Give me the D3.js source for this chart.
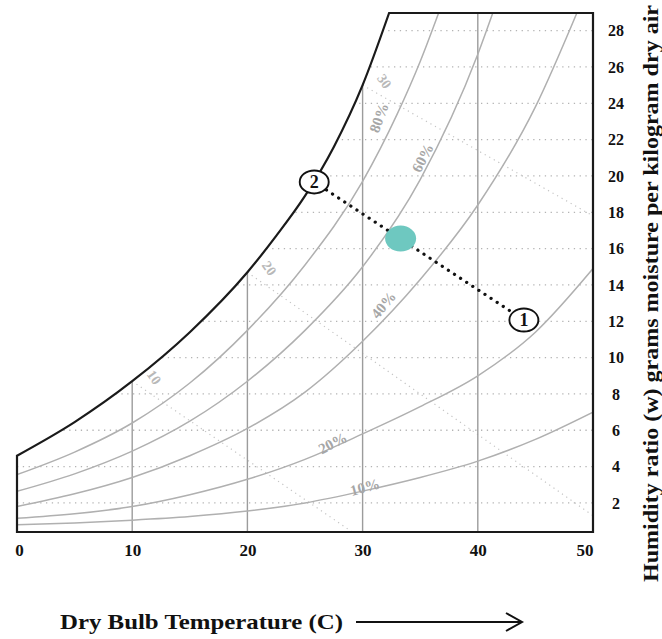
<!DOCTYPE html>
<html>
<head>
<meta charset="utf-8">
<script src="https://cdn.jsdelivr.net/npm/d3@7"></script>
<style>
  html, body { margin: 0; padding: 0; background: #fff; }
  svg { display: block; }
  text { font-family: "Liberation Serif", "DejaVu Serif", Times, serif; }
</style>
</head>
<body>
<svg id="chart" width="662" height="639"></svg>
<script>
// ---------------- data ----------------
const tempTicks = [0, 10, 20, 30, 40, 50];
const wTicks = [2, 4, 6, 8, 10, 12, 14, 16, 18, 20, 22, 24, 26, 28];
const tempDomain = [0, 50];
const wDomain = [0.4, 28.97];

// saturation (100%) curve
const satT = [0, 5, 10, 15, 20, 22.5, 25, 27.5, 30, 32.3];
const satW = [4.6, 6.45, 8.7, 11.4, 14.7, 16.7, 18.9, 21.6, 25.0, 28.97];

// relative humidity curves
const rhNames = ["80%", "60%", "40%", "20%", "10%"];
const rh80T = [0, 5, 10, 15, 20, 25, 30, 33, 35, 36.6];
const rh80W = [3.56, 4.8, 6.4, 8.6, 11.5, 15.1, 19.7, 23.4, 26.3, 28.97];
const rh60T = [0, 5, 10, 15, 20, 25, 30, 35, 40, 41.3];
const rh60W = [2.64, 3.6, 4.85, 6.5, 8.7, 11.5, 15.0, 19.8, 26.7, 28.97];
const rh40T = [0, 5, 10, 15, 20, 25, 30, 35, 40, 45, 48.6];
const rh40W = [1.8, 2.5, 3.4, 4.6, 6.1, 8.1, 10.9, 14.3, 18.4, 23.8, 28.97];
const rh20T = [0, 5, 10, 15, 20, 25, 30, 35, 40, 45, 50];
const rh20W = [1.15, 1.4, 1.8, 2.45, 3.3, 4.4, 5.8, 7.3, 9.0, 11.4, 14.9];
const rh10T = [0, 5, 10, 15, 20, 25, 30, 35, 40, 45, 50];
const rh10W = [0.8, 0.9, 1.05, 1.25, 1.55, 2.0, 2.65, 3.4, 4.3, 5.5, 7.0];
// RH label anchor (temperature, humidity ratio) and angle
const rhLabelT = [31.4, 35.2, 31.8, 27.4, 30.2];
const rhLabelW = [23.2, 21.0, 12.9, 5.3, 2.88];
const rhLabelAngle = [-70, -63, -50, -27, -15];

// wet bulb lines
const wbNames = ["10", "20", "30"];
const wbStartT = [10, 20, 30];
const wbStartW = [8.7, 14.7, 25.0];
const wbEndT = [29.1, 50, 50];
const wbEndW = [0.4, 1.3, 17.8];

// states
const stateNames = ["1", "2"];
const stateT = [44.0, 25.8];
const stateW = [12.07, 19.67];
const mixT = 33.3;
const mixW = 16.55;

// ---------------- drawing ----------------
const svg = d3.select("#chart");
const x = d3.scaleLinear().domain(tempDomain).range([17, 593]);
const y = d3.scaleLinear().domain(wDomain).range([532, 13]);

const zip = (ts, ws) => ts.map((t, i) => [t, ws[i]]);
const line = d3.line().x(d => x(d[0])).y(d => y(d[1])).curve(d3.curveMonotoneX);

const satPts = zip(satT, satW);
const satPath = line(satPts);
const regionPath = satPath +
  "L" + x(tempDomain[1]) + "," + y(wDomain[1]) +
  "L" + x(tempDomain[1]) + "," + y(wDomain[0]) +
  "L" + x(tempDomain[0]) + "," + y(wDomain[0]) + "Z";

const defs = svg.append("defs");
defs.append("clipPath").attr("id", "region").append("path").attr("d", regionPath);

const inner = svg.append("g").attr("clip-path", "url(#region)");

// horizontal dotted grid
inner.selectAll("line.hgrid").data(wTicks).join("line")
  .attr("class", "hgrid")
  .attr("x1", x(tempDomain[0])).attr("x2", x(tempDomain[1]))
  .attr("y1", d => y(d)).attr("y2", d => y(d))
  .attr("stroke", "#b4b4b4").attr("stroke-width", 1.3)
  .attr("stroke-dasharray", "1.3,4.5");

// wet bulb dotted lines
inner.selectAll("line.wb").data(wbNames).join("line")
  .attr("class", "wb")
  .attr("x1", (d, i) => x(wbStartT[i])).attr("y1", (d, i) => y(wbStartW[i]))
  .attr("x2", (d, i) => x(wbEndT[i])).attr("y2", (d, i) => y(wbEndW[i]))
  .attr("stroke", "#c4c4c4").attr("stroke-width", 1.2)
  .attr("stroke-dasharray", "1.2,4");

// vertical grid lines
inner.selectAll("line.vgrid").data(tempTicks.slice(1, -1)).join("line")
  .attr("class", "vgrid")
  .attr("x1", d => x(d)).attr("x2", d => x(d))
  .attr("y1", y(wDomain[0])).attr("y2", y(wDomain[1]))
  .attr("stroke", "#9c9c9c").attr("stroke-width", 1.4);

// RH curves
const rhData = [zip(rh80T, rh80W), zip(rh60T, rh60W), zip(rh40T, rh40W), zip(rh20T, rh20W), zip(rh10T, rh10W)];
inner.selectAll("path.rh").data(rhData).join("path")
  .attr("class", "rh")
  .attr("d", line)
  .attr("fill", "none").attr("stroke", "#b0b0b0").attr("stroke-width", 1.5);

// RH labels
svg.selectAll("text.rhlab").data(rhNames).join("text")
  .attr("class", "rhlab")
  .attr("transform", (d, i) => `translate(${x(rhLabelT[i])},${y(rhLabelW[i])}) rotate(${rhLabelAngle[i]})`)
  .attr("text-anchor", "middle").attr("dy", "0.35em")
  .attr("font-size", 15).attr("font-weight", "bold").attr("fill", "#a6a6a6")
  .text(d => d);

// wet bulb labels
svg.selectAll("text.wblab").data(wbNames).join("text")
  .attr("class", "wblab")
  .attr("transform", (d, i) => `translate(${x(wbStartT[i]) + 22},${y(wbStartW[i]) - 4}) rotate(55)`)
  .attr("text-anchor", "middle").attr("dy", "0.35em")
  .attr("font-size", 14).attr("font-weight", "bold").attr("fill", "#b8b8b8")
  .text(d => d);

// outline (saturation curve + frame)
svg.append("path")
  .attr("d", "M" + x(tempDomain[0]) + "," + y(wDomain[0]) + "L" + satPath.slice(1) +
    "L" + x(tempDomain[1]) + "," + y(wDomain[1]) +
    "L" + x(tempDomain[1]) + "," + y(wDomain[0]) + "Z")
  .attr("fill", "none").attr("stroke", "#1a1a1a").attr("stroke-width", 2.2)
  .attr("stroke-linejoin", "miter");

// mixing line
svg.append("line")
  .attr("x1", x(stateT[1])).attr("y1", y(stateW[1]))
  .attr("x2", x(stateT[0])).attr("y2", y(stateW[0]))
  .attr("stroke", "#111").attr("stroke-width", 3.2)
  .attr("stroke-linecap", "round").attr("stroke-dasharray", "0.1,7.2");

// mixed state
svg.append("ellipse")
  .attr("cx", x(mixT)).attr("cy", y(mixW))
  .attr("rx", 15.5).attr("ry", 13)
  .attr("fill", "#6ec8c0");

// state markers
const st = svg.selectAll("g.state").data(stateNames).join("g")
  .attr("class", "state")
  .attr("transform", (d, i) => `translate(${x(stateT[i])},${y(stateW[i])})`);
st.append("ellipse").attr("rx", 14.5).attr("ry", 11.5)
  .attr("fill", "#fff").attr("stroke", "#111").attr("stroke-width", 1.9);
st.append("text").attr("text-anchor", "middle").attr("dy", "0.36em")
  .attr("font-size", 18).attr("font-weight", "bold").attr("fill", "#111")
  .text(d => d);

// x axis
const xAxis = svg.append("g")
  .attr("transform", `translate(0,${y(wDomain[0])})`)
  .call(d3.axisBottom(x).tickValues(tempTicks).tickSize(0).tickPadding(12));
xAxis.select(".domain").remove();
xAxis.selectAll("text")
  .attr("font-family", "'Liberation Serif', serif")
  .attr("font-size", 17).attr("font-weight", "bold").attr("fill", "#111")
  .attr("text-anchor", (d, i, n) => i === n.length - 1 ? "end" : "middle")
  .attr("dx", (d, i, n) => i === n.length - 1 ? 0 : (i === 0 ? 2 : 0));

// y axis (right)
const yAxis = svg.append("g")
  .attr("transform", `translate(${x(tempDomain[1])},0)`)
  .call(d3.axisRight(y).tickValues(wTicks).tickSize(0).tickPadding(23));
yAxis.select(".domain").remove();
yAxis.selectAll("text")
  .attr("font-family", "'Liberation Serif', serif")
  .attr("font-size", 16).attr("font-weight", "bold").attr("fill", "#111")
  .attr("text-anchor", "middle");

// axis titles
svg.append("text")
  .attr("x", 60).attr("y", 629)
  .attr("font-size", 22).attr("font-weight", "bold").attr("fill", "#111")
  .attr("textLength", 283).attr("lengthAdjust", "spacingAndGlyphs")
  .text("Dry Bulb Temperature (C)");
svg.append("path")
  .attr("d", "M356,622H521M506,613L522,622L506,631")
  .attr("fill", "none").attr("stroke", "#111").attr("stroke-width", 2);

svg.append("text")
  .attr("transform", "translate(658,582) rotate(-90)")
  .attr("text-anchor", "start")
  .attr("font-size", 21).attr("font-weight", "bold").attr("fill", "#111")
  .attr("textLength", 577).attr("lengthAdjust", "spacingAndGlyphs")
  .text("Humidity ratio (w) grams moisture per kilogram dry air");
</script>
</body>
</html>
